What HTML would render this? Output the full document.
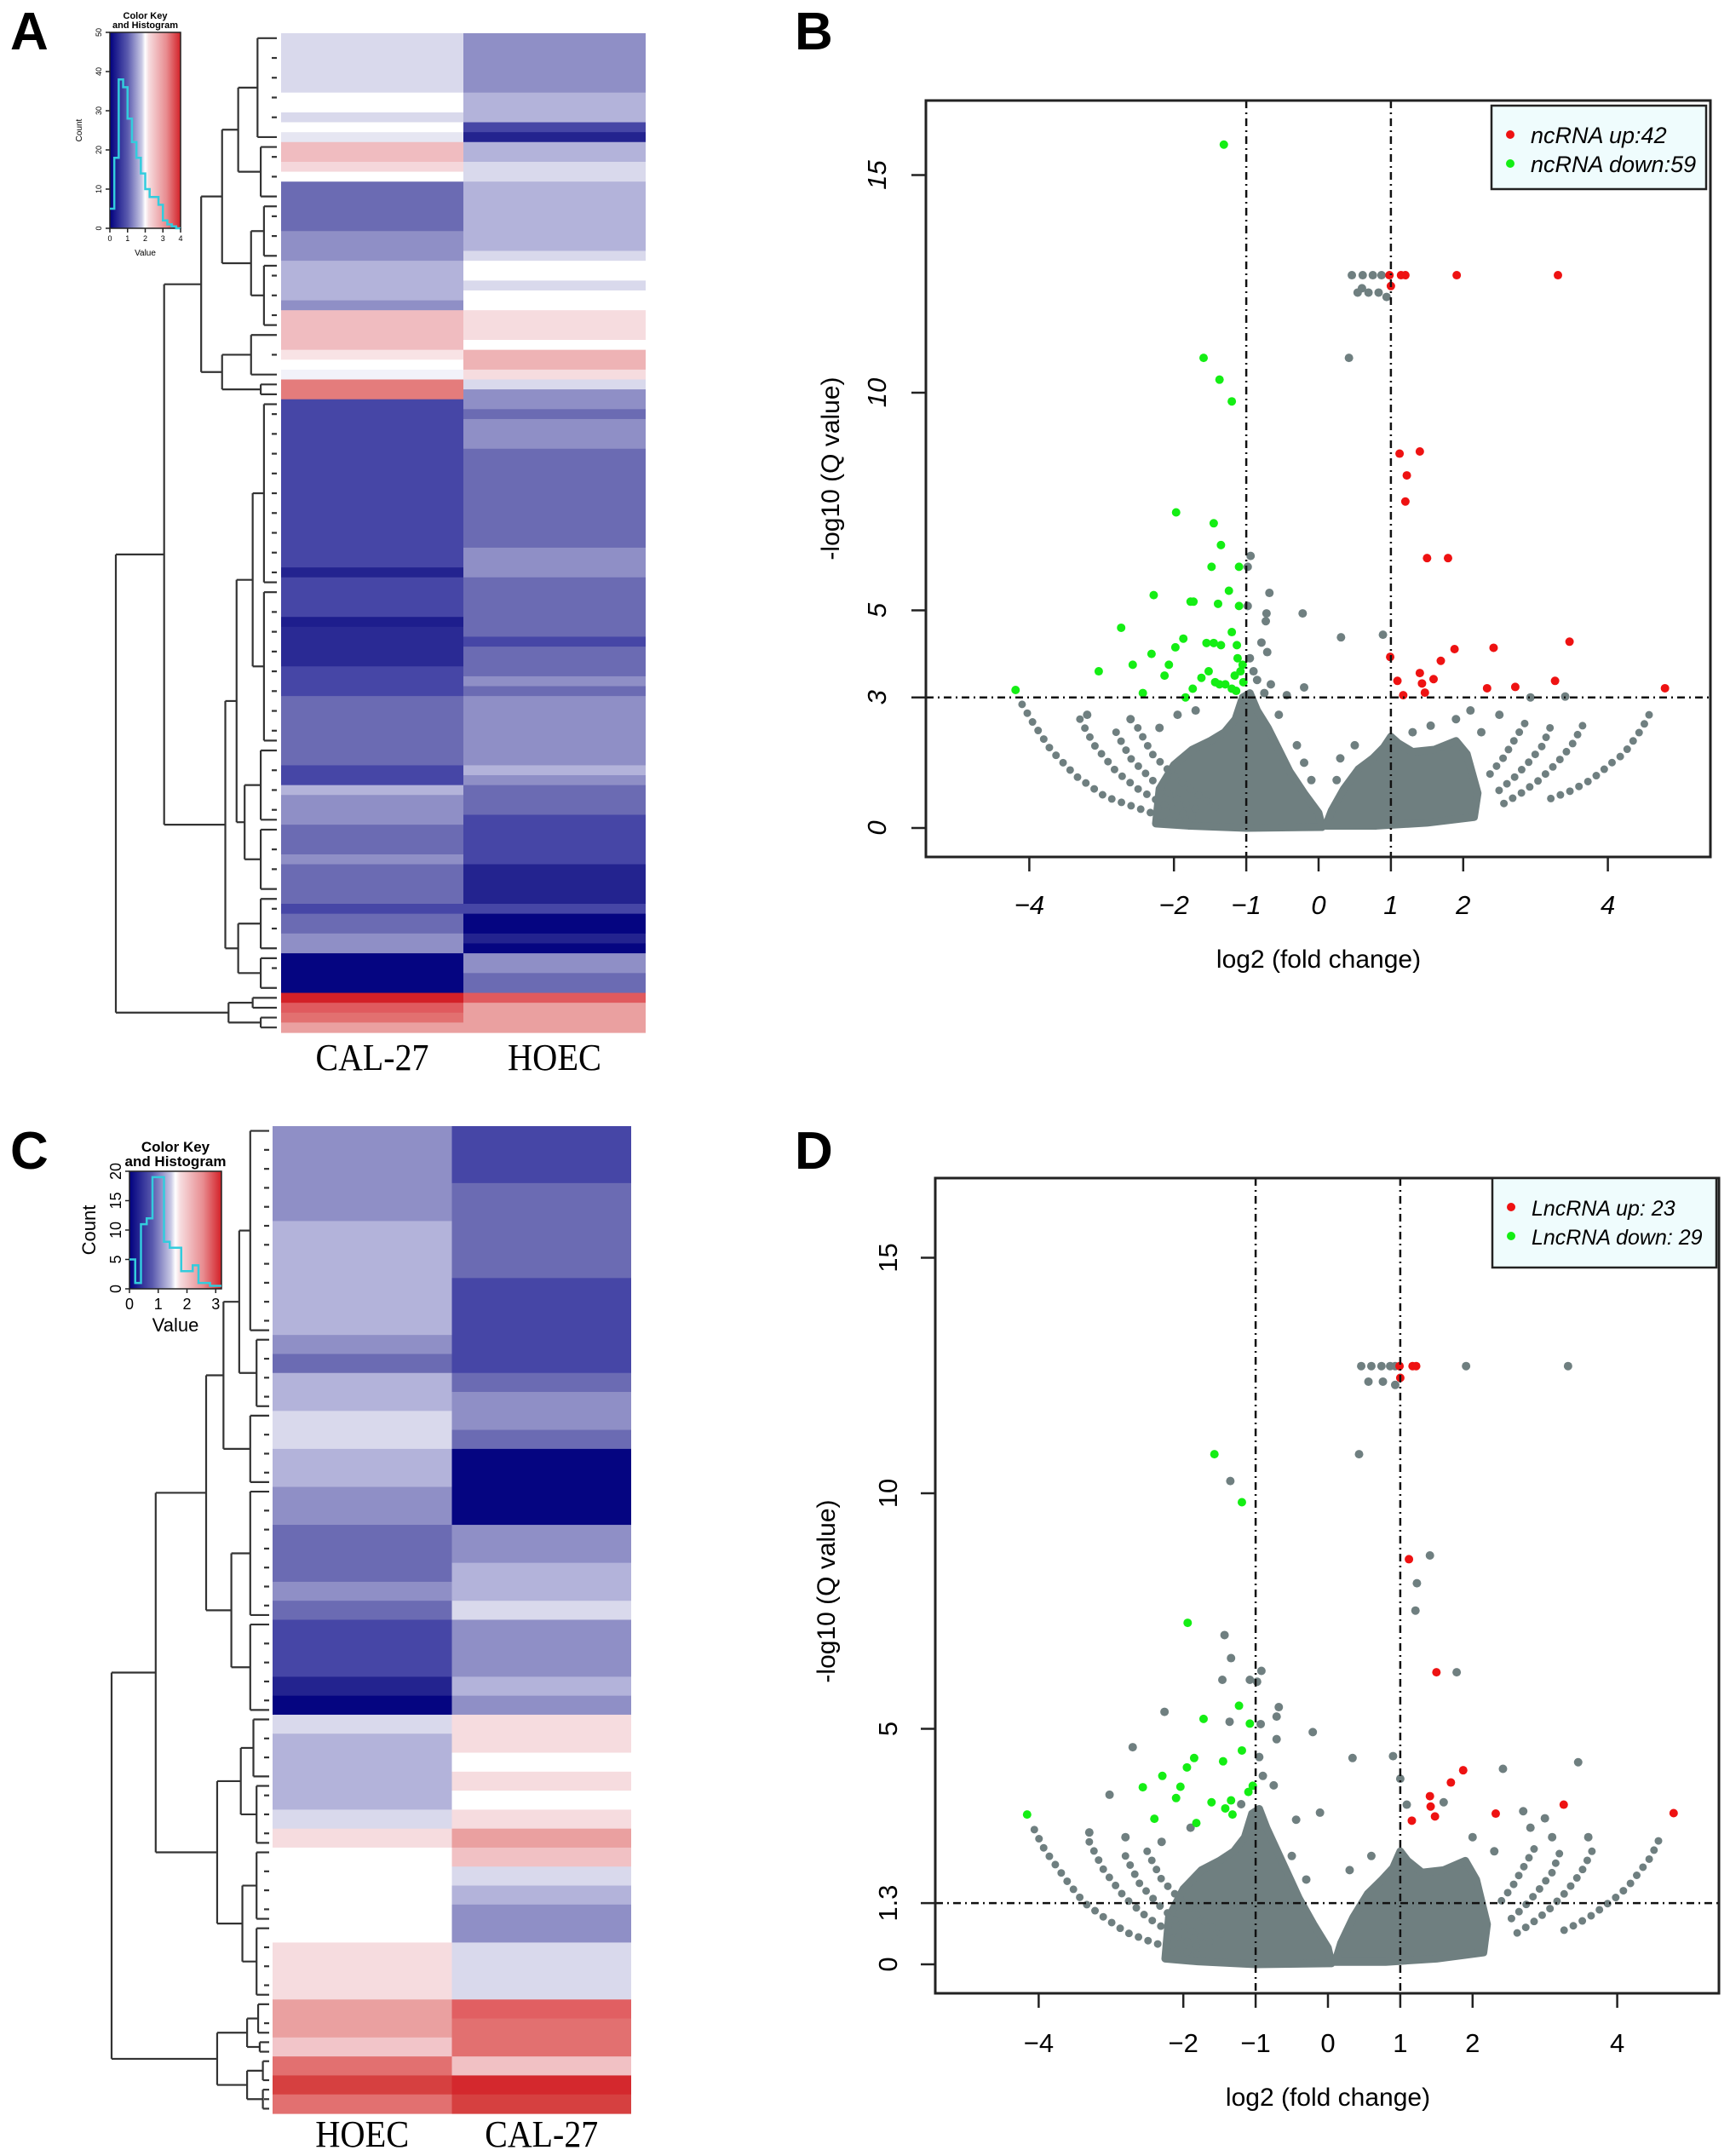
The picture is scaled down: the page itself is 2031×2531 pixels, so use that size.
<!DOCTYPE html>
<html><head><meta charset="utf-8"><style>
html,body{margin:0;padding:0;background:#fff;}
svg{display:block;}
text{font-family:"Liberation Sans",Arial,sans-serif;}
text.serif{font-family:"Liberation Serif","Times New Roman",serif;}
</style></head><body>
<svg id="fig" width="2031" height="2531" viewBox="0 0 2031 2531" xmlns="http://www.w3.org/2000/svg">
<defs>
<linearGradient id="keyGrad" x1="0" x2="1" y1="0" y2="0">
<stop offset="0" stop-color="#00007f"/><stop offset="0.25" stop-color="#5a5aae"/><stop offset="0.45" stop-color="#c8c8e4"/><stop offset="0.5" stop-color="#ffffff"/><stop offset="0.55" stop-color="#f6dcdf"/><stop offset="0.8" stop-color="#e88c90"/><stop offset="1" stop-color="#d32027"/>
</linearGradient>
</defs>
<rect x="0" y="0" width="2031" height="2531" fill="#fff"/>
<text x="12" y="58" font-size="62" font-weight="bold">A</text>
<text x="933" y="58" font-size="62" font-weight="bold">B</text>
<text x="12" y="1372" font-size="62" font-weight="bold">C</text>
<text x="933" y="1372" font-size="62" font-weight="bold">D</text>
<g id="panelA"></g>
<g id="panelC"></g>
<g id="panelB"></g>
<g id="panelD"></g>
</svg>
<script>
const NS='http://www.w3.org/2000/svg';
function mk(tag,attrs,parent){const e=document.createElementNS(NS,tag);for(const k in attrs)e.setAttribute(k,attrs[k]);parent.appendChild(e);return e;}

/* ===== Heatmap data (value scale 0..4, run-length [value,rowCount]) ===== */
const heatA_cal=[[1.7,6],[2,2],[1.7,1],[2,1],[1.8,1],[2.6,2],[2.3,1],[2,1],[0.9,5],[1.2,3],[1.45,4],[1.2,1],[2.6,4],[2.2,1],[2,1],[1.9,1],[3.2,2],[0.6,17],[0.35,1],[0.6,4],[0.3,1],[0.4,4],[0.6,3],[0.9,7],[0.6,2],[1.45,1],[1.2,3],[0.9,3],[1.2,1],[0.9,4],[0.6,1],[0.9,2],[1.2,2],[0.05,4],[3.9,1],[3.5,1],[3.3,1],[2.9,1]];
const heatA_hoec=[[1.2,6],[1.45,3],[0.6,1],[0.35,1],[1.45,2],[1.7,2],[1.45,7],[1.7,1],[2,2],[1.7,1],[2,2],[2.25,3],[2,1],[2.7,2],[2.25,1],[1.7,1],[1.2,2],[0.9,1],[1.2,3],[0.9,10],[1.2,3],[0.9,6],[0.6,1],[0.9,3],[1.2,1],[0.9,1],[1.2,7],[1.45,1],[1.2,1],[0.9,3],[0.6,5],[0.35,4],[0.6,1],[0.05,2],[0.35,1],[0.05,1],[1.2,2],[0.9,2],[3.5,1],[2.9,3]];
const heatC_hoec=[[1.2,10],[1.45,12],[1.2,2],[0.9,2],[1.45,4],[1.7,4],[1.45,4],[1.2,4],[0.9,6],[1.2,2],[0.9,2],[0.6,6],[0.35,2],[0.05,2],[1.7,2],[1.45,8],[1.7,2],[2.25,2],[2,10],[2.25,6],[2.9,4],[2.5,2],[3.3,2],[3.7,2],[3.3,2]];
const heatC_cal=[[0.6,6],[0.9,10],[0.6,10],[0.9,2],[1.2,4],[0.9,2],[0.05,8],[1.2,4],[1.45,4],[1.7,2],[1.2,6],[1.45,2],[1.2,2],[2.25,4],[2,2],[2.25,2],[2,2],[2.25,2],[2.9,2],[2.55,2],[1.7,2],[1.45,2],[1.2,4],[1.7,6],[3.45,2],[3.3,4],[2.55,2],[3.85,2],[3.7,2]];
const colsA=['CAL-27','HOEC'];
const colsC=['HOEC','CAL-27'];
const histA=[5,18,38,36,28,22,18,14,10,8,8,6,2,1,0.5,0];
const histC=[5,1,11,12,19,19,8,7,7,3,3,4,1,1,0.5,0.5];
const treeA={h:1,c:[
 {h:0.70,c:[
  {h:0.47,c:[
   {h:0.34,c:[{h:0.24,c:[{h:0.12,r:[0,11]},{h:0.1,r:[11,17]}]},{h:0.16,c:[{h:0.08,r:[17,23]},{h:0.08,r:[23,30]}]}]},
   {h:0.34,c:[{h:0.16,r:[30,35]},{h:0.1,r:[35,37]}]}]},
  {h:0.32,c:[
   {h:0.25,c:[{h:0.15,c:[{h:0.08,r:[37,56]},{h:0.08,r:[56,72]}]},{h:0.2,c:[{h:0.1,r:[72,80]},{h:0.1,r:[80,87]}]}]},
   {h:0.24,c:[{h:0.1,r:[87,93]},{h:0.1,r:[93,97]}]}]}]},
 {h:0.3,c:[{h:0.15,r:[97,99]},{h:0.1,r:[99,101]}]}]};
const treeC={h:1,c:[
 {h:0.72,c:[
  {h:0.40,c:[
   {h:0.29,c:[{h:0.19,c:[{h:0.12,r:[0,22]},{h:0.08,r:[22,30]}]},{h:0.12,r:[30,38]}]},
   {h:0.24,c:[{h:0.12,r:[38,52]},{h:0.12,r:[52,62]}]}]},
  {h:0.33,c:[
   {h:0.18,c:[{h:0.1,r:[62,69]},{h:0.08,r:[69,76]}]},
   {h:0.17,c:[{h:0.08,r:[76,84]},{h:0.08,r:[84,92]}]}]}]},
 {h:0.33,c:[{h:0.14,c:[{h:0.07,r:[92,96]},{h:0.06,r:[96,98]}]},{h:0.14,c:[{h:0.04,r:[98,101]},{h:0.04,r:[101,104]}]}]}]};

const stops=[[0,'#00007f'],[0.35,'#23238f'],[0.6,'#4646a6'],[0.9,'#6b6bb3'],[1.2,'#8f8fc6'],[1.45,'#b3b3da'],[1.7,'#d9d9ec'],[2.0,'#ffffff'],[2.25,'#f6dcdf'],[2.6,'#f0bcc0'],[2.9,'#eaa0a0'],[3.3,'#e27070'],[3.5,'#e05a5e'],[3.7,'#d64040'],[3.9,'#d32027'],[4,'#cc1820']];
function hex(c){return [1,3,5].map(i=>parseInt(c.substr(i,2),16));}
function colorOf(v){for(let i=0;i<stops.length-1;i++){const [a,ca]=stops[i],[b,cb]=stops[i+1];if(v<=b){const t=Math.max(0,(v-a)/(b-a));const A=hex(ca),B=hex(cb);return 'rgb('+A.map((x,j)=>Math.round(x+(B[j]-x)*t)).join(',')+')';}}return stops[stops.length-1][1];}

function heatmap(g,cfg){
  const colW=(cfg.x2-cfg.x0)/2;
  [cfg.c1,cfg.c2].forEach((runs,ci)=>{
    const N=runs.reduce((s,r)=>s+r[1],0);const rh=(cfg.y1-cfg.y0)/N;let cum=0;
    runs.forEach(r=>{
      const el=mk('rect',{x:cfg.x0+ci*colW,y:cfg.y0+cum*rh,width:colW,height:r[1]*rh+0.6,fill:colorOf(r[0])},g);
      
      
      cum+=r[1];
    });
    const t=mk('text',{class:'serif',x:cfg.x0+ci*colW+colW/2,y:cfg.labelY,'text-anchor':'middle','font-size':44,textLength:cfg.labels[ci].length>4?133:110,lengthAdjust:'spacingAndGlyphs'},g);
    t.textContent=cfg.labels[ci];
    
    
  });
  const N=cfg.c1.reduce((s,r)=>s+r[1],0);const rh=(cfg.y1-cfg.y0)/N;
  const X=h=>cfg.leafX-h*(cfg.leafX-cfg.rootX);
  const rowY=r=>cfg.y0+(r+0.5)*rh;
  function line(x1,y1,x2,y2){const l=mk('line',{x1,y1,x2,y2,stroke:'#333',"stroke-width":2.2},g);}
  function draw(n){
    const x=X(n.h);
    if(n.r){const ya=rowY(n.r[0]),yb=rowY(n.r[1]-1);line(x,ya,x,yb);
      for(let r=n.r[0];r<n.r[1];r++){if(r===n.r[0]||r===n.r[1]-1)line(x,rowY(r),cfg.leafX,rowY(r));else if(r%2===0)line(cfg.leafX-6,rowY(r),cfg.leafX,rowY(r));}
      return (ya+yb)/2;}
    const ys=n.c.map(ch=>{const y=draw(ch);line(X(ch.h),y,x,y);return y;});
    line(x,ys[0],x,ys[1]);return (ys[0]+ys[1])/2;
  }
  draw(cfg.tree);
}

function colorKey(g,k){
  const bg=mk('rect',{x:k.x0,y:k.y0,width:k.x1-k.x0,height:k.y1-k.y0,fill:'url(#keyGrad)',stroke:'#222','stroke-width':1.5},g);
  
  
  const n=k.hist.length;const bw=(k.x1-k.x0)/n;let d='';
  k.hist.forEach((c,i)=>{const y=k.y1-c/k.ymax*(k.y1-k.y0);d+=(i?'L':'M')+(k.x0+i*bw)+','+y+'L'+(k.x0+(i+1)*bw)+','+y;});
  const p=mk('path',{d,fill:'none',stroke:'#33ccdd','stroke-width':2.5},g);
  
  
  k.yt.forEach(v=>{const y=k.y1-v/k.ymax*(k.y1-k.y0);mk('line',{x1:k.x0-5,x2:k.x0,y1:y,y2:y,stroke:'#222','stroke-width':1.5},g);
    const t=mk('text',{x:k.x0-10,y:y,'font-size':k.fs,'text-anchor':'middle',transform:'rotate(-90 '+(k.x0-10)+' '+y+')'},g);t.textContent=v;});
  k.xt.forEach(v=>{const x=k.x0+v/k.xmax*(k.x1-k.x0);mk('line',{x1:x,x2:x,y1:k.y1,y2:k.y1+5,stroke:'#222','stroke-width':1.5},g);
    const t=mk('text',{x:x,y:k.y1+6+k.fs,'font-size':k.fs,'text-anchor':'middle'},g);t.textContent=v;});
  const tt=mk('text',{x:(k.x0+k.x1)/2,y:k.ty,'font-size':k.tfs,'font-weight':'bold','text-anchor':'middle'},g);tt.textContent='Color Key';
  const t2=mk('text',{x:(k.x0+k.x1)/2,y:k.ty+k.tfs,'font-size':k.tfs,'font-weight':'bold','text-anchor':'middle'},g);t2.textContent='and Histogram';
  const vl=mk('text',{x:(k.x0+k.x1)/2,y:k.vy,'font-size':k.vfs,'text-anchor':'middle'},g);vl.textContent='Value';
  const cl=mk('text',{x:k.cx,y:(k.y0+k.y1)/2,'font-size':k.vfs,'text-anchor':'middle',transform:'rotate(-90 '+k.cx+' '+(k.y0+k.y1)/2+')'},g);cl.textContent='Count';
}

const gA=document.getElementById('panelA'),gC=document.getElementById('panelC');
heatmap(gA,{x0:330,x2:758,y0:39,y1:1212,c1:heatA_cal,c2:heatA_hoec,labels:colsA,labelY:1256,tree:treeA,leafX:325,rootX:136});
heatmap(gC,{x0:320,x2:741,y0:1322,y1:2481,c1:heatC_hoec,c2:heatC_cal,labels:colsC,labelY:2520,tree:treeC,leafX:316,rootX:131});
colorKey(gA,{x0:129,x1:212,y0:38,y1:268,hist:histA,ymax:50,xmax:4,yt:[0,10,20,30,40,50],xt:[0,1,2,3,4],fs:9,ty:22,tfs:11,vy:300,vfs:10,cx:96});
colorKey(gC,{x0:152,x1:260,y0:1375,y1:1513,hist:histC,ymax:20,xmax:3.2,yt:[0,5,10,15,20],xt:[0,1,2,3],fs:18,ty:1352,tfs:17,vy:1563,vfs:22,cx:112});

/* ===== Volcano data: [log2FC, -log10 Q] ===== */
const bXTicks=[-4,-2,-1,0,1,2,4];
const bYTicks=[0,3,5,10,15];
const dYTicks=[0,1.3,5,10,15];
const bGreen=[[-1.31,15.7],[-1.59,10.8],[-1.37,10.3],[-1.2,9.8],[-1.97,7.25],[-1.45,7.0],[-1.35,6.5],[-1.48,6.0],[-1.1,6.0],[-2.28,5.35],[-1.77,5.2],[-1.73,5.2],[-1.39,5.15],[-1.24,5.45],[-1.1,5.1],[-2.73,4.6],[-1.2,4.5],[-1.55,4.25],[-1.45,4.25],[-1.35,4.2],[-1.13,4.2],[-1.87,4.35],[-1.98,4.15],[-2.31,4.0],[-2.57,3.75],[-2.07,3.75],[-2.13,3.5],[-3.04,3.6],[-4.19,3.17],[-2.43,3.1],[-1.84,3.0],[-1.74,3.2],[-1.62,3.45],[-1.52,3.6],[-1.43,3.35],[-1.37,3.3],[-1.29,3.3],[-1.2,3.2],[-1.14,3.15],[-1.08,3.6],[-1.04,3.35],[-1.12,3.9],[-1.05,3.75],[-1.16,3.5]];
const bRed=[[0.98,12.7],[1.0,12.45],[1.14,12.7],[1.2,12.7],[1.91,12.7],[3.31,12.7],[1.12,8.6],[1.4,8.65],[1.22,8.1],[1.2,7.5],[1.5,6.2],[1.79,6.2],[0.99,3.93],[1.88,4.11],[2.42,4.14],[3.47,4.28],[1.69,3.84],[1.4,3.56],[1.59,3.42],[1.09,3.38],[1.43,3.32],[1.47,3.11],[1.17,3.05],[2.33,3.21],[2.72,3.24],[3.27,3.38],[4.79,3.21]];
const bGray=[[0.46,12.7],[0.61,12.7],[0.75,12.7],[0.87,12.7],[0.54,12.3],[0.6,12.4],[0.69,12.3],[0.83,12.3],[0.94,12.2],[0.42,10.8],[-0.22,4.93],[0.31,4.38],[0.89,4.44],[-0.94,6.25],[-0.98,6.0],[-0.68,5.4],[-0.98,5.1],[-0.72,4.93],[-0.73,4.75],[-0.71,4.04],[-0.79,4.26],[-0.2,3.23],[-0.44,3.05],[-0.66,3.3],[-0.9,3.6],[-0.95,3.9],[-0.85,3.4],[-0.75,3.1],[2.93,3.0],[3.41,3.02],[-3.2,2.6],[-2.6,2.5],[-2.2,2.3],[-1.95,2.6],[-1.7,2.7],[-0.55,2.6],[-0.3,1.9],[-0.2,1.5],[0.3,1.6],[0.5,1.9],[1.3,2.2],[1.55,2.35],[1.9,2.5],[2.25,2.2],[2.5,2.6],[2.1,2.7],[0.25,1.1],[-0.1,1.1]];
const bArcs=[
 [[-4.1,2.84],[-3.95,2.42],[-3.7,1.79],[-3.36,1.2],[-2.95,0.72],[-2.49,0.45],[-2.08,0.21],[-1.79,0.07]],
 [[-3.3,2.5],[-3.1,1.9],[-2.8,1.3],[-2.5,0.9],[-2.1,0.5],[-1.7,0.2]],
 [[-2.8,2.2],[-2.6,1.6],[-2.3,1.1],[-2.0,0.7],[-1.6,0.35]],
 [[-2.5,2.3],[-2.3,1.7],[-2.0,1.2],[-1.7,0.8],[-1.4,0.45]],
 [[4.57,2.6],[4.47,2.28],[4.22,1.7],[4.07,1.52],[3.88,1.25],[3.71,1.05],[3.47,0.84],[3.2,0.67]],
 [[3.65,2.35],[3.5,1.9],[3.3,1.5],[3.05,1.1],[2.8,0.8],[2.55,0.55]],
 [[3.2,2.3],[3.1,1.9],[2.9,1.5],[2.7,1.15],[2.45,0.8]],
 [[2.85,2.4],[2.7,2.0],[2.55,1.6],[2.35,1.2]]];
const bBlob=[
 [[-2.25,0.1],[-2.2,0.9],[-2.0,1.45],[-1.75,1.8],[-1.5,2.0],[-1.3,2.2],[-1.15,2.5],[-1.05,3.0],[-0.95,3.1],[-0.85,2.7],[-0.7,2.3],[-0.55,1.8],[-0.4,1.3],[-0.2,0.8],[0.0,0.35],[0.05,0.02],[-1.0,0.0],[-1.8,0.05]],
 [[0.1,0.05],[0.18,0.4],[0.35,0.9],[0.55,1.35],[0.75,1.6],[0.9,1.85],[1.0,2.1],[1.1,1.95],[1.3,1.75],[1.6,1.8],[1.9,2.0],[2.05,1.7],[2.2,0.8],[2.15,0.25],[1.5,0.12],[0.8,0.05]]];

const dGreen=[[-1.57,10.83],[-1.19,9.81],[-1.94,7.25],[-1.23,5.49],[-1.72,5.21],[-1.08,5.11],[-1.19,4.54],[-1.85,4.38],[-1.95,4.18],[-1.45,4.31],[-2.29,4.0],[-2.56,3.76],[-2.04,3.77],[-2.1,3.53],[-1.1,3.66],[-1.61,3.44],[-1.34,3.48],[-1.42,3.31],[-1.32,3.18],[-2.4,3.09],[-1.82,3.0],[-4.16,3.18],[-1.04,3.79]];
const dRed=[[0.99,12.7],[1.17,12.7],[1.22,12.7],[1.0,12.45],[1.12,8.6],[1.5,6.2],[1.87,4.12],[1.7,3.86],[1.41,3.57],[1.42,3.35],[1.48,3.14],[1.16,3.05],[2.32,3.2],[3.26,3.39],[4.78,3.21]];
const dGray=[[0.43,10.83],[-1.35,10.26],[1.41,8.68],[1.23,8.09],[1.21,7.51],[1.78,6.2],[-1.43,6.99],[-1.34,6.5],[-1.46,6.04],[-0.92,6.23],[-1.08,6.04],[-0.98,6.0],[-2.26,5.36],[-1.36,5.15],[-0.68,5.46],[-0.71,5.26],[-0.21,4.93],[-0.93,5.1],[-0.71,4.78],[-2.7,4.61],[0.34,4.38],[0.9,4.42],[2.42,4.15],[3.46,4.29],[-3.02,3.6],[-0.11,3.22],[-0.44,3.07],[2.7,3.25],[1.6,3.44],[1.09,3.39],[1.0,3.94],[0.46,12.7],[0.6,12.7],[0.74,12.7],[0.86,12.7],[0.93,12.7],[1.91,12.7],[3.32,12.7],[0.56,12.37],[0.76,12.37],[0.93,12.3],[-0.95,4.4],[-0.9,4.0],[-0.75,3.8],[-1.2,3.4],[-2.8,2.7],[-2.3,2.6],[-1.9,2.9],[-3.3,2.8],[-0.5,2.3],[0.3,2.0],[2.0,2.7],[2.3,2.4],[2.8,2.9],[3.1,2.7],[3.0,3.1],[3.6,2.7],[-0.3,1.8],[0.6,2.3]];
const dArcs=[
 [[-4.06,2.86],[-3.92,2.44],[-3.6,1.75],[-3.38,1.32],[-3.1,1.0],[-2.79,0.68],[-2.45,0.48],[-2.13,0.32],[-1.73,0.19]],
 [[-3.3,2.6],[-3.1,2.0],[-2.8,1.4],[-2.5,1.0],[-2.1,0.6],[-1.7,0.3]],
 [[-2.8,2.3],[-2.6,1.7],[-2.3,1.2],[-2.0,0.8],[-1.6,0.45]],
 [[-2.5,2.4],[-2.3,1.8],[-2.0,1.3],[-1.7,0.9],[-1.4,0.55]],
 [[4.57,2.62],[4.46,2.27],[4.19,1.73],[4.04,1.49],[3.67,1.06],[3.45,0.86],[3.19,0.67]],
 [[3.65,2.4],[3.5,1.95],[3.3,1.55],[3.05,1.15],[2.8,0.85],[2.55,0.6]],
 [[3.2,2.35],[3.1,1.95],[2.9,1.55],[2.7,1.2],[2.45,0.85]],
 [[2.85,2.45],[2.7,2.05],[2.55,1.65],[2.35,1.25]]];
const dBlob=[
 [[-2.25,0.12],[-2.2,1.0],[-2.0,1.6],[-1.75,2.0],[-1.5,2.2],[-1.3,2.4],[-1.15,2.7],[-1.05,3.2],[-0.95,3.3],[-0.85,2.9],[-0.7,2.4],[-0.55,1.9],[-0.4,1.4],[-0.2,0.85],[0.0,0.35],[0.05,0.02],[-1.0,0.0],[-1.8,0.06]],
 [[0.1,0.05],[0.18,0.45],[0.35,1.0],[0.55,1.5],[0.75,1.8],[0.9,2.05],[1.0,2.4],[1.1,2.2],[1.3,1.95],[1.6,2.0],[1.9,2.2],[2.05,1.8],[2.2,0.85],[2.15,0.25],[1.5,0.12],[0.8,0.05]]];

const GRAY='#6f7f80';
function volcano(g,c){
  const X=c.X,Y=c.Y;
  c.blob.forEach(poly=>{const el=mk('polygon',{points:poly.map(p=>X(p[0])+','+Y(p[1])).join(' '),fill:GRAY,stroke:GRAY,'stroke-width':9,'stroke-linejoin':'round'},g);});
  c.arcs.forEach(a=>{const el=mk('polyline',{points:a.map(p=>X(p[0])+','+Y(p[1])).join(' '),fill:'none',stroke:GRAY,'stroke-width':9,'stroke-linecap':'round','stroke-dasharray':'0 12'},g);});
  c.gray.forEach(p=>{const el=mk('circle',{cx:X(p[0]),cy:Y(p[1]),r:5,fill:GRAY},g);});
  c.green.forEach(p=>{const el=mk('circle',{cx:X(p[0]),cy:Y(p[1]),r:5,fill:'#14ee14'},g);});
  c.red.forEach(p=>{const el=mk('circle',{cx:X(p[0]),cy:Y(p[1]),r:5,fill:'#ee1212'},g);});
  const b=c.box;
  [-1,1].forEach(v=>{const el=mk('line',{x1:X(v),x2:X(v),y1:b[1],y2:b[3],stroke:'#111','stroke-width':2.5,'stroke-dasharray':'9 5 2 5'},g);});
  const hl=mk('line',{x1:b[0],x2:b[2],y1:Y(c.thr),y2:Y(c.thr),stroke:'#111','stroke-width':2.5,'stroke-dasharray':'9 5 2 5'},g);
  
  
  const bx=mk('rect',{x:b[0],y:b[1],width:b[2]-b[0],height:b[3]-b[1],fill:'none',stroke:'#222','stroke-width':3},g);
  
  
  c.xt.forEach(v=>{const x=X(v);mk('line',{x1:x,x2:x,y1:b[3],y2:b[3]+17,stroke:'#222','stroke-width':2.5},g);
    const t=mk('text',{x:x,y:c.xtY,'font-size':31,'text-anchor':'middle','font-style':c.ital?'italic':'normal'},g);t.textContent=v<0?'\u2212'+(-v):String(v);});
  c.yt.forEach(v=>{const y=Y(v);mk('line',{x1:b[0]-17,x2:b[0],y1:y,y2:y,stroke:'#222','stroke-width':2.5},g);
    const t=mk('text',{x:c.ytX,y:y,'font-size':31,'text-anchor':'middle','font-style':c.ital?'italic':'normal',transform:'rotate(-90 '+c.ytX+' '+y+')'},g);t.textContent=String(v);});
  const xt=mk('text',{x:c.xlab[0],y:c.xlab[1],'font-size':30,'text-anchor':'middle'},g);xt.textContent='log2 (fold change)';
  const yt=mk('text',{x:c.ylab[0],y:c.ylab[1],'font-size':30,'text-anchor':'middle',transform:'rotate(-90 '+c.ylab[0]+' '+c.ylab[1]+')'},g);yt.textContent='-log10 (Q value)';
  const L=c.leg;
  const lg=mk('rect',{x:L[0],y:L[1],width:L[2]-L[0],height:L[3]-L[1],fill:'#effcfd',stroke:'#222','stroke-width':2.5},g);
  
  
  c.legText.forEach((s,i)=>{const y=L[1]+34+i*34;
    const d=mk('circle',{cx:L[0]+22,cy:y,r:5,fill:i?'#14ee14':'#ee1212'},g);
    const t=mk('text',{x:L[0]+46,y:y+10,'font-size':c.legFs,'font-style':'italic'},g);t.textContent=s;});
}
volcano(document.getElementById('panelB'),{X:x=>1548+x*84.9,Y:y=>972-y*51.1,box:[1087,118,2008,1006],thr:3,blob:bBlob,arcs:bArcs,gray:bGray,green:bGreen,red:bRed,xt:bXTicks,yt:bYTicks,xtY:1073,ytX:1040,ital:true,xlab:[1548,1136],ylab:[985,550],leg:[1751,124,2003,222],legText:['ncRNA up:42','ncRNA down:59'],legFs:27});
volcano(document.getElementById('panelD'),{X:x=>1559+x*84.9,Y:y=>2306-y*55.3,box:[1098,1383,2018,2340],thr:1.3,blob:dBlob,arcs:dArcs,gray:dGray,green:dGreen,red:dRed,xt:bXTicks,yt:dYTicks,xtY:2409,ytX:1053,ital:false,xlab:[1559,2472],ylab:[980,1868],leg:[1752,1383,2015,1488],legText:['LncRNA up: 23','LncRNA down: 29'],legFs:25});
</script>
</body></html>
